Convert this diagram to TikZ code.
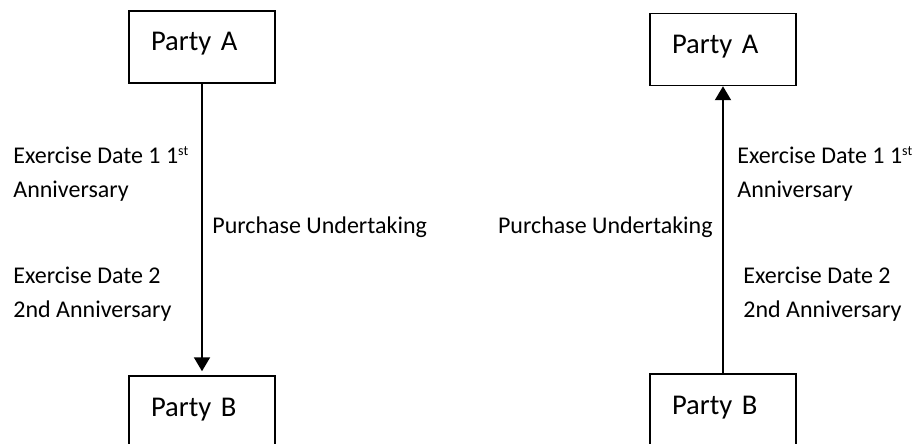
\documentclass[tikz,border=0pt]{standalone}
\usepackage{fontspec}
\setmainfont{Carlito}
\usetikzlibrary{arrows.meta}

\begin{document}
\begin{tikzpicture}[x=0.5pt, y=-0.5pt,
    party/.style={draw, line width=0.75pt, text width=51pt, inner xsep=11pt, align=left,
                  minimum height=36pt, text height=10pt, text depth=6pt,
                  font=\fontsize{14.3}{16}\selectfont},
    note/.style={anchor=base west, inner sep=0pt, font=\fontsize{12}{17}\selectfont},
    flow/.style={line width=1pt, -{Triangle[width=8pt,length=7pt]}}]
            \useasboundingbox (0, 0) rectangle (917, 444);
            \clip (0, 0) rectangle (917, 444);

            \node [party] (leftA)  at (202, 47)  {Party A};
            \node [party] (leftB)  at (202, 412) {Party B};
            \draw [flow, shorten >=2pt] (leftA) -- (leftB);
            \node [note] (leftDateOne)  at (13, 164)  {Exercise Date 1 1\textsuperscript{\scriptsize st}};
            \node [note] (leftAnnOne)   at (13, 198)  {Anniversary};
            \node [note] (leftDeal)     at (212, 234) {Purchase Undertaking};
            \node [note] (leftDateTwo)  at (13, 284)  {Exercise Date 2};
            \node [note] (leftAnnTwo)   at (13, 317)  {2nd Anniversary};

            \node [party] (rightA) at (723, 49.5) {Party A};
            \node [party] (rightB) at (723, 410)  {Party B};
            \draw [flow] (rightB) -- (rightA);
            \node [note] (rightDateOne) at (737, 164) {Exercise Date 1 1\textsuperscript{\scriptsize st}};
            \node [note] (rightAnnOne)  at (737, 198) {Anniversary};
            \node [note, anchor=base east] (rightDeal) at (713, 234) {Purchase Undertaking};
            \node [note] (rightDateTwo) at (743, 284) {Exercise Date 2};
            \node [note] (rightAnnTwo)  at (743, 317) {2nd Anniversary};
          \end{tikzpicture}
\end{document}
